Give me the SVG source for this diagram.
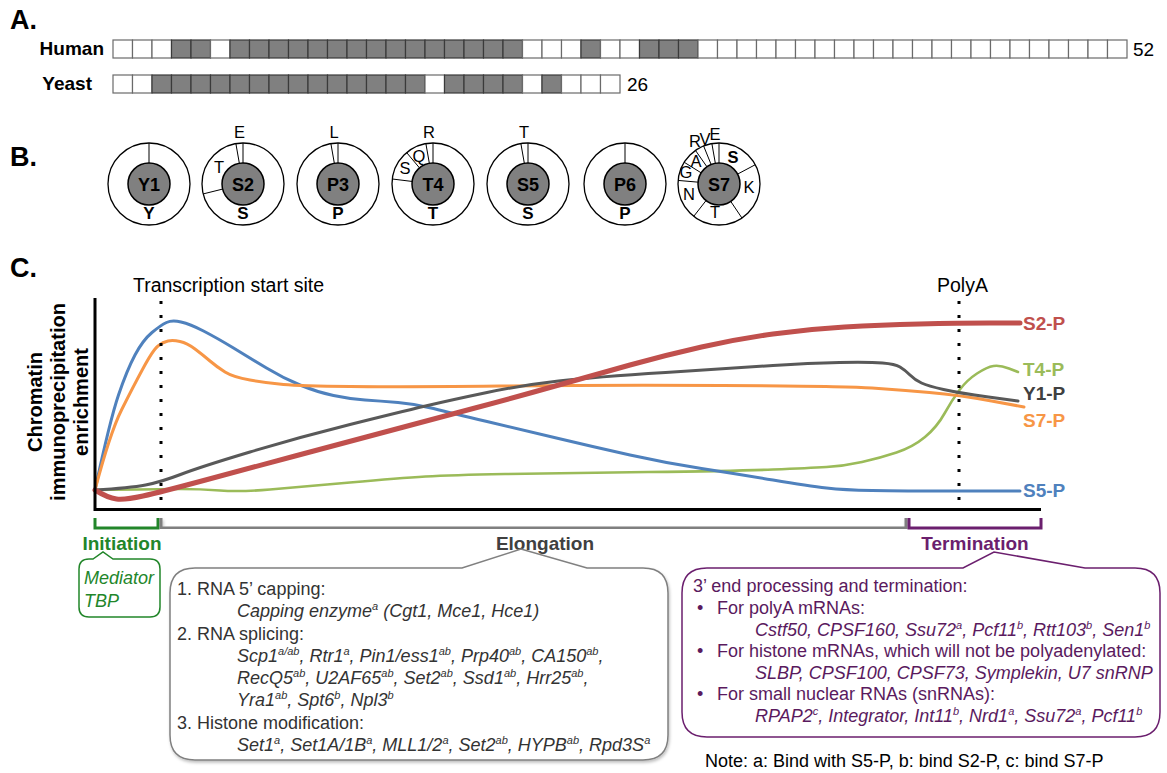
<svg xmlns="http://www.w3.org/2000/svg" width="1167" height="773" viewBox="0 0 1167 773">
<style>
text{font-family:"Liberation Sans",Arial,Helvetica,sans-serif;}
.hd{font-size:27px;font-weight:bold;fill:#000;}
.sp{font-size:19px;font-weight:bold;fill:#000;}
.num{font-size:19px;fill:#000;}
.w{fill:#fff;stroke:#6a6a6a;stroke-width:1.2;}
.g{fill:#808080;stroke:#3a3a3a;stroke-width:1.2;}
.outer{fill:#fff;stroke:#000;stroke-width:1.3;}
.inner{fill:#808080;stroke:#000;stroke-width:1.5;}
.spk{stroke:#000;stroke-width:1;fill:none;}
.il{font-size:18px;font-weight:bold;text-anchor:middle;}
.bl{font-size:17px;font-weight:bold;text-anchor:middle;}
.sl{font-size:16.5px;text-anchor:middle;}
.crv{fill:none;stroke-linecap:round;stroke-linejoin:round;}
.dot{stroke:#000;stroke-width:3;stroke-dasharray:3 11;fill:none;}
.cl{font-size:19px;font-weight:bold;}
.et{font-size:18px;fill:#333;}
.pt{font-size:18px;fill:#5a1a5e;}
.it{font-style:italic;}
</style>
<defs>
<filter id="sh" x="-5%" y="-5%" width="110%" height="115%"><feDropShadow dx="1" dy="2" stdDeviation="1.5" flood-color="#000" flood-opacity="0.25"/></filter>
</defs>
<rect width="1167" height="773" fill="#fff"/>

<!-- Section A -->
<g id="sectionA">
<text class="hd" x="10" y="29">A.</text>
<text class="sp" x="104" y="55" text-anchor="end">Human</text>
<text class="sp" x="92" y="90" text-anchor="end">Yeast</text>
<g id="human">
<rect class="w" x="113" y="40" width="19.5" height="18"/><rect class="w" x="132.5" y="40" width="19.5" height="18"/><rect class="w" x="152" y="40" width="19.5" height="18"/><rect class="g" x="171.5" y="40" width="19.5" height="18"/><rect class="g" x="191" y="40" width="19.5" height="18"/><rect class="w" x="210.5" y="40" width="19.5" height="18"/>
<rect class="g" x="230" y="40" width="19.5" height="18"/><rect class="g" x="249.5" y="40" width="19.5" height="18"/><rect class="g" x="269" y="40" width="19.5" height="18"/><rect class="g" x="288.5" y="40" width="19.5" height="18"/><rect class="g" x="308" y="40" width="19.5" height="18"/><rect class="g" x="327.5" y="40" width="19.5" height="18"/><rect class="g" x="347" y="40" width="19.5" height="18"/><rect class="g" x="366.5" y="40" width="19.5" height="18"/><rect class="g" x="386" y="40" width="19.5" height="18"/><rect class="g" x="405.5" y="40" width="19.5" height="18"/><rect class="g" x="425" y="40" width="19.5" height="18"/><rect class="g" x="444.5" y="40" width="19.5" height="18"/><rect class="g" x="464" y="40" width="19.5" height="18"/><rect class="g" x="483.5" y="40" width="19.5" height="18"/><rect class="g" x="503" y="40" width="19.5" height="18"/>
<rect class="w" x="522.5" y="40" width="19.5" height="18"/><rect class="w" x="542" y="40" width="19.5" height="18"/><rect class="w" x="561.5" y="40" width="19.5" height="18"/><rect class="g" x="581" y="40" width="19.5" height="18"/><rect class="w" x="600.5" y="40" width="19.5" height="18"/><rect class="w" x="620" y="40" width="19.5" height="18"/><rect class="g" x="639.5" y="40" width="19.5" height="18"/><rect class="g" x="659" y="40" width="19.5" height="18"/><rect class="g" x="678.5" y="40" width="19.5" height="18"/>
<rect class="w" x="698" y="40" width="19.5" height="18"/><rect class="w" x="717.5" y="40" width="19.5" height="18"/><rect class="w" x="737" y="40" width="19.5" height="18"/><rect class="w" x="756.5" y="40" width="19.5" height="18"/><rect class="w" x="776" y="40" width="19.5" height="18"/><rect class="w" x="795.5" y="40" width="19.5" height="18"/><rect class="w" x="815" y="40" width="19.5" height="18"/><rect class="w" x="834.5" y="40" width="19.5" height="18"/><rect class="w" x="854" y="40" width="19.5" height="18"/><rect class="w" x="873.5" y="40" width="19.5" height="18"/><rect class="w" x="893" y="40" width="19.5" height="18"/><rect class="w" x="912.5" y="40" width="19.5" height="18"/><rect class="w" x="932" y="40" width="19.5" height="18"/><rect class="w" x="951.5" y="40" width="19.5" height="18"/><rect class="w" x="971" y="40" width="19.5" height="18"/><rect class="w" x="990.5" y="40" width="19.5" height="18"/><rect class="w" x="1010" y="40" width="19.5" height="18"/><rect class="w" x="1029.5" y="40" width="19.5" height="18"/><rect class="w" x="1049" y="40" width="19.5" height="18"/><rect class="w" x="1068.5" y="40" width="19.5" height="18"/><rect class="w" x="1088" y="40" width="19.5" height="18"/><rect class="w" x="1107.5" y="40" width="19.5" height="18"/>
</g>
<text class="num" x="1133" y="56">52</text>
<g id="yeast">
<rect class="w" x="113" y="75" width="19.5" height="18"/><rect class="w" x="132.5" y="75" width="19.5" height="18"/>
<rect class="g" x="152" y="75" width="19.5" height="18"/><rect class="g" x="171.5" y="75" width="19.5" height="18"/><rect class="g" x="191" y="75" width="19.5" height="18"/><rect class="g" x="210.5" y="75" width="19.5" height="18"/><rect class="g" x="230" y="75" width="19.5" height="18"/><rect class="g" x="249.5" y="75" width="19.5" height="18"/><rect class="g" x="269" y="75" width="19.5" height="18"/><rect class="g" x="288.5" y="75" width="19.5" height="18"/><rect class="g" x="308" y="75" width="19.5" height="18"/><rect class="g" x="327.5" y="75" width="19.5" height="18"/><rect class="g" x="347" y="75" width="19.5" height="18"/><rect class="g" x="366.5" y="75" width="19.5" height="18"/><rect class="g" x="386" y="75" width="19.5" height="18"/><rect class="g" x="405.5" y="75" width="19.5" height="18"/>
<rect class="w" x="425" y="75" width="19.5" height="18"/>
<rect class="g" x="444.5" y="75" width="19.5" height="18"/><rect class="g" x="464" y="75" width="19.5" height="18"/><rect class="g" x="483.5" y="75" width="19.5" height="18"/><rect class="g" x="503" y="75" width="19.5" height="18"/>
<rect class="w" x="522.5" y="75" width="19.5" height="18"/><rect class="g" x="542" y="75" width="19.5" height="18"/>
<rect class="w" x="561.5" y="75" width="19.5" height="18"/><rect class="w" x="581" y="75" width="19.5" height="18"/><rect class="w" x="600.5" y="75" width="19.5" height="18"/>
</g>
<text class="num" x="627" y="91">26</text>
</g>

<!-- Section B -->
<text class="hd" x="10" y="166">B.</text>
<g id="Y1" transform="translate(149,184)">
<circle class="outer" r="41"/><path class="spk" d="M0,-21V-41"/><circle class="inner" r="21"/>
<text class="il" y="6.5">Y1</text><text class="bl" y="35">Y</text>
</g>
<g id="S2" transform="translate(243,184)">
<circle class="outer" r="41"/><path class="spk" d="M0,-21V-41M-3.65,-20.68L-7.12,-40.38M-20.38,5.08L-39.78,9.92"/><circle class="inner" r="21"/>
<text class="il" y="6.5">S2</text><text class="bl" y="35">S</text>
<text class="sl" x="-3.5" y="-46">E</text><text class="sl" x="-24" y="-11">T</text>
</g>
<g id="P3" transform="translate(338,184)">
<circle class="outer" r="41"/><path class="spk" d="M0,-21V-41M-3.65,-20.68L-7.12,-40.38"/><circle class="inner" r="21"/>
<text class="il" y="6.5">P3</text><text class="bl" y="35">P</text>
<text class="sl" x="-4" y="-46">L</text>
</g>
<g id="T4" transform="translate(433,184)">
<circle class="outer" r="41"/><path class="spk" d="M0,-21V-41M-3.65,-20.68L-7.12,-40.38M-13.50,-16.09L-26.35,-31.41M-20.84,-2.56L-40.69,-5.00"/><circle class="inner" r="21"/>
<text class="il" y="6.5">T4</text><text class="bl" y="35">T</text>
<text class="sl" x="-4" y="-46">R</text><text class="sl" x="-14" y="-22.5">Q</text><text class="sl" x="-28" y="-10.5">S</text>
</g>
<g id="S5" transform="translate(528,184)">
<circle class="outer" r="41"/><path class="spk" d="M0,-21V-41M-3.65,-20.68L-7.12,-40.38"/><circle class="inner" r="21"/>
<text class="il" y="6.5">S5</text><text class="bl" y="35">S</text>
<text class="sl" x="-4" y="-46">T</text>
</g>
<g id="P6" transform="translate(625,184)">
<circle class="outer" r="41"/><path class="spk" d="M0,-21V-41"/><circle class="inner" r="21"/>
<text class="il" y="6.5">P6</text><text class="bl" y="35">P</text>
</g>
<g id="S7" transform="translate(719,184)">
<circle class="outer" r="41"/>
<path class="spk" d="M0,-21V-41M-3.65,-20.68L-7.12,-40.38M-7.87,-19.47L-15.36,-38.01M-12.05,-17.20L-23.52,-33.59M-17.81,-11.13L-34.77,-21.73M-20.92,-1.83L-40.84,-3.57M-12.93,16.55L-25.24,32.31M11.74,17.41L22.93,33.99M18.54,-9.86L36.20,-19.25"/>
<circle class="inner" r="21"/>
<text class="il" y="6.5">S7</text>
<text class="sl" x="-24" y="-37.5">R</text><text class="sl" x="-14" y="-39.5">V</text><text class="sl" x="-4" y="-44.5">E</text>
<text class="sl" x="-23" y="-17">A</text><text class="sl" x="-33" y="-6">G</text><text class="sl" x="-30" y="16">N</text>
<text class="sl" x="-4" y="34">T</text><text class="sl" x="30" y="9">K</text>
<text class="sl" x="14" y="-21" font-weight="bold" font-size="17">S</text>
</g>

<!-- Section C -->
<text class="hd" x="10" y="277">C.</text>
<text x="133" y="292" font-size="19.5">Transcription start site</text>
<text x="937" y="292" font-size="19.5">PolyA</text>
<g id="ylabel" font-size="20" font-weight="bold" text-anchor="middle">
<text transform="translate(42,402) rotate(-90)">Chromatin</text>
<text transform="translate(65,402) rotate(-90)">immunoprecipitation</text>
<text transform="translate(88,402) rotate(-90)">enrichment</text>
</g>

<g id="curves">
<path id="T4P" class="crv" stroke="#9bbb59" stroke-width="2.6" d="M95,490 Q161,489 180.5,489 Q200,489 220,490.5 Q240,492 270,489.5 Q300,487 350,482.5 Q400,478 425.5,476.5 Q451,475 505,474 Q559,473 648,472 Q737,471 773,469.5 Q809,468 826.5,467 Q844,466 862,462 Q880,458 896.5,452.5 Q913,447 925,437 Q937,427 944.5,413.5 Q952,400 959.5,390 Q967,380 977,373.5 Q987,367 993.5,366 Q1000,365 1009,368.5 L1018,372"/>
<path id="S5P" class="crv" stroke="#4f81bd" stroke-width="3" d="M95,490 Q110,420 118.5,395 Q127,370 135,355 Q143,340 152,332.5 Q161,325 166.5,322.5 Q172,320 181,322 Q190,324 203.5,331 Q217,338 233.5,348 Q250,358 266.5,368 Q283,378 300,385 Q317,392 333.5,395.5 Q350,399 365,400 Q380,401 398,402.5 Q416,404 433.5,408.5 Q451,413 487,421.5 Q523,430 558.5,438.5 Q594,447 630,455 Q666,463 701.5,468.5 Q737,474 773,480 Q809,486 826.5,488 Q844,490 872,490.5 Q900,491 960,491 L1020,491"/>
<path id="S7P" class="crv" stroke="#f79646" stroke-width="3" d="M95,490 Q110,433 121.5,410 Q133,387 143,368.5 Q153,350 158,346 Q163,342 168,341 Q173,340 180,341.5 Q187,343 195,349 Q203,355 210,361 Q217,367 225,372 Q233,377 250,380 Q267,383 283.5,384.5 Q300,386 350,386.5 Q400,387 500,386 Q600,385 722,385.5 Q844,386 872,388 Q900,390 929.5,392.5 Q959,395 991.5,401 L1024,407"/>
<path id="Y1P" class="crv" stroke="#595959" stroke-width="3" d="M95,490 Q130,488 145.5,485 Q161,482 180.5,474.5 Q200,467 250,452 Q300,437 350,424.5 Q400,412 425.5,406 Q451,400 487,392.5 Q523,385 558.5,381 Q594,377 665.5,372.5 Q737,368 773,365.5 Q809,363 839.5,362.5 Q870,362 882.5,363 Q895,364 900,367 Q905,370 910,375 Q915,380 921.5,383 Q928,386 943.5,389.5 Q959,393 988.5,397 L1018,401"/>
<path id="S2P" class="crv" stroke="#c0504d" stroke-width="5" d="M95,490 Q108,498 116.5,499 Q125,500 143,496 Q161,492 205.5,480 Q250,468 295,456 Q340,444 385,432 Q430,420 475,408 Q520,396 557,385.5 Q594,375 630,365 Q666,355 701.5,347 Q737,339 773,334 Q809,329 844.5,327 Q880,325 919.5,324 Q959,323 989.5,323 L1020,323"/>
</g>
<g id="curve-labels" class="cl">
<text x="1023" y="330" fill="#c0504d">S2-P</text>
<text x="1023" y="376" fill="#9bbb59">T4-P</text>
<text x="1023" y="400" fill="#404040">Y1-P</text>
<text x="1023" y="427" fill="#f79646">S7-P</text>
<text x="1023" y="497" fill="#4f81bd">S5-P</text>
</g>
<g id="axes">
<path d="M95,298 V509.5 H1041" fill="none" stroke="#000" stroke-width="3"/>
<path class="dot" d="M161,301 V508"/>
<path class="dot" d="M959,301 V508"/>
</g>

<g id="phases">
<path d="M95,518 V528 H158 V518" fill="none" stroke="#22862a" stroke-width="3"/>
<path d="M161,518 V528 H906 V518" fill="none" stroke="#7f7f7f" stroke-width="3" filter="url(#sh)"/>
<path d="M909,518 V528 H1041 V518" fill="none" stroke="#6b1f6e" stroke-width="3"/>
<text x="122" y="550" font-size="19" font-weight="bold" fill="#22862a" text-anchor="middle">Initiation</text>
<text x="545" y="550" font-size="19" font-weight="bold" fill="#404040" text-anchor="middle">Elongation</text>
<text x="975" y="550" font-size="19" font-weight="bold" fill="#6b1f6e" text-anchor="middle">Termination</text>
</g>

<g id="initiation-box">
<path d="M89,559 H93 L103,552 L113,559 H150 Q160,559 160,569 V607 Q160,617 150,617 H89 Q79,617 79,607 V569 Q79,559 89,559 Z" fill="#fff" stroke="#22862a" stroke-width="1.5"/>
<text x="84" y="584" font-size="18" font-style="italic" fill="#22862a">Mediator</text>
<text x="84" y="607" font-size="18" font-style="italic" fill="#22862a">TBP</text>
</g>

<g id="elongation-box">
<path d="M195,568 H462 L521,549 L587,568 H643 Q668,568 668,593 V735 Q668,760 643,760 H195 Q170,760 170,735 V593 Q170,568 195,568 Z" fill="#fff" stroke="#808080" stroke-width="1.5" filter="url(#sh)"/>
<text class="et" x="177" y="595">1. RNA 5’ capping:</text>
<text class="et it" x="237" y="617">Capping enzyme<tspan dy="-7" font-size="11">a</tspan><tspan dy="7"> (Cgt1, Mce1, Hce1)</tspan></text>
<text class="et" x="177" y="640">2. RNA splicing:</text>
<text class="et it" x="237" y="662">Scp1<tspan dy="-7" font-size="11">a/ab</tspan><tspan dy="7">, Rtr1</tspan><tspan dy="-7" font-size="11">a</tspan><tspan dy="7">, Pin1/ess1</tspan><tspan dy="-7" font-size="11">ab</tspan><tspan dy="7">, Prp40</tspan><tspan dy="-7" font-size="11">ab</tspan><tspan dy="7">, CA150</tspan><tspan dy="-7" font-size="11">ab</tspan><tspan dy="7">,</tspan></text>
<text class="et it" x="237" y="684">RecQ5<tspan dy="-7" font-size="11">ab</tspan><tspan dy="7">, U2AF65</tspan><tspan dy="-7" font-size="11">ab</tspan><tspan dy="7">, Set2</tspan><tspan dy="-7" font-size="11">ab</tspan><tspan dy="7">, Ssd1</tspan><tspan dy="-7" font-size="11">ab</tspan><tspan dy="7">, Hrr25</tspan><tspan dy="-7" font-size="11">ab</tspan><tspan dy="7">,</tspan></text>
<text class="et it" x="237" y="706">Yra1<tspan dy="-7" font-size="11">ab</tspan><tspan dy="7">, Spt6</tspan><tspan dy="-7" font-size="11">b</tspan><tspan dy="7">, Npl3</tspan><tspan dy="-7" font-size="11">b</tspan></text>
<text class="et" x="177" y="729">3. Histone modification:</text>
<text class="et it" x="237" y="751">Set1<tspan dy="-7" font-size="11">a</tspan><tspan dy="7">, Set1A/1B</tspan><tspan dy="-7" font-size="11">a</tspan><tspan dy="7">, MLL1/2</tspan><tspan dy="-7" font-size="11">a</tspan><tspan dy="7">, Set2</tspan><tspan dy="-7" font-size="11">ab</tspan><tspan dy="7">, HYPB</tspan><tspan dy="-7" font-size="11">ab</tspan><tspan dy="7">, Rpd3S</tspan><tspan dy="-7" font-size="11">a</tspan></text>
</g>

<g id="termination-box">
<path d="M707,568 H963 L994,552 L1085,568 H1135 Q1160,568 1160,593 V712 Q1160,737 1135,737 H707 Q682,737 682,712 V593 Q682,568 707,568 Z" fill="#fff" stroke="#6b1f6e" stroke-width="1.5"/>
<text class="pt" x="693" y="592">3’ end processing and termination:</text>
<text class="pt" x="697" y="614">•</text><text class="pt" x="717" y="614">For polyA mRNAs:</text>
<text class="pt it" x="755" y="636">Cstf50, CPSF160, Ssu72<tspan dy="-7" font-size="11">a</tspan><tspan dy="7">, Pcf11</tspan><tspan dy="-7" font-size="11">b</tspan><tspan dy="7">, Rtt103</tspan><tspan dy="-7" font-size="11">b</tspan><tspan dy="7">, Sen1</tspan><tspan dy="-7" font-size="11">b</tspan></text>
<text class="pt" x="697" y="657">•</text><text class="pt" x="717" y="657">For histone mRNAs, which will not be polyadenylated:</text>
<text class="pt it" x="755" y="679">SLBP, CPSF100, CPSF73, Symplekin, U7 snRNP</text>
<text class="pt" x="697" y="700">•</text><text class="pt" x="717" y="700">For small nuclear RNAs (snRNAs):</text>
<text class="pt it" x="755" y="722">RPAP2<tspan dy="-7" font-size="11">c</tspan><tspan dy="7">, Integrator, Int11</tspan><tspan dy="-7" font-size="11">b</tspan><tspan dy="7">, Nrd1</tspan><tspan dy="-7" font-size="11">a</tspan><tspan dy="7">, Ssu72</tspan><tspan dy="-7" font-size="11">a</tspan><tspan dy="7">, Pcf11</tspan><tspan dy="-7" font-size="11">b</tspan></text>
</g>
<text x="705" y="767" font-size="18" fill="#000">Note: a: Bind with S5-P, b: bind S2-P, c: bind S7-P</text>
</svg>
